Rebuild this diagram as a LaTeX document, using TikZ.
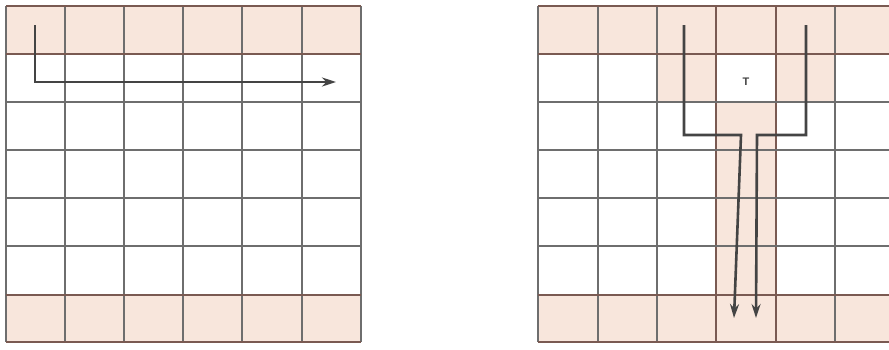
\documentclass[tikz,border=0pt]{standalone}
\usepackage{fontspec}
\setmainfont{Liberation Sans}
\usetikzlibrary{arrows.meta}
\definecolor{shade}{HTML}{F8E6DC}
\definecolor{gridc}{HTML}{6E6E6E}
\definecolor{brownc}{HTML}{7A5A52}
\definecolor{pathc}{HTML}{444444}
\tikzset{
  cell/.style={fill=shade,draw=none},
  gridline/.style={draw=gridc,line width=2.8pt},
  brline/.style={draw=brownc,line width=2.8pt},
  route/.style={draw=pathc,line width=2.6pt},
  tip/.style={-{Stealth[length=14pt,width=9pt]}},
  lbl/.style={font=\bfseries\fontsize{11}{12}\selectfont,text=pathc,inner sep=0pt}
}
\begin{document}
\begin{tikzpicture}[x=1pt,y=-1pt]
\useasboundingbox (0,0) rectangle (889,349);
\clip (0,0) rectangle (889,349);
\fill[white] (0,0) rectangle (889,349);
% ---------- left grid ----------
\fill[cell] (6,6) rectangle (361,54);
\fill[cell] (6,295) rectangle (361,342);
\foreach \x in {6,65,124,183,242,302,361}
  \draw[gridline] (\x,6) -- (\x,342);
\foreach \y in {102,150,198,246}
  \draw[gridline] (6,\y) -- (361,\y);
\foreach \y in {6,54,295,342}
  \draw[brline] (6,\y) -- (361,\y);
% ---------- right grid ----------
\fill[cell] (538,6) rectangle (895,54);
\fill[cell] (538,295) rectangle (895,342);
\fill[cell] (657,54) rectangle (716,102);
\fill[cell] (776,54) rectangle (835,102);
\fill[cell] (716,102) rectangle (776,295);
\foreach \x in {538,598,657,835}
  \draw[gridline] (\x,6) -- (\x,342);
\foreach \x in {716,776}
  \draw[brline] (\x,6) -- (\x,342);
\foreach \y in {102,150,198,246}
  \draw[gridline] (538,\y) -- (895,\y);
\foreach \y in {6,54,295,342}
  \draw[brline] (538,\y) -- (895,\y);
\node[lbl] (T) at (746,82) {T};
% ---------- routes ----------
\coordinate (a0) at (35,25);
\coordinate (a1) at (35,82);
\coordinate (a2) at (336,82);
\draw[route,tip] (a0) -- (a1) -- (a2);
\coordinate (b0) at (684,25);
\coordinate (b1) at (684,135);
\coordinate (b2) at (741,135);
\coordinate (b3) at (734,318);
\draw[route,tip] (b0) -- (b1) -- (b2) -- (b3);
\coordinate (c0) at (806,25);
\coordinate (c1) at (806,135);
\coordinate (c2) at (757,135);
\coordinate (c3) at (756,318);
\draw[route,tip] (c0) -- (c1) -- (c2) -- (c3);
\end{tikzpicture}
\end{document}
